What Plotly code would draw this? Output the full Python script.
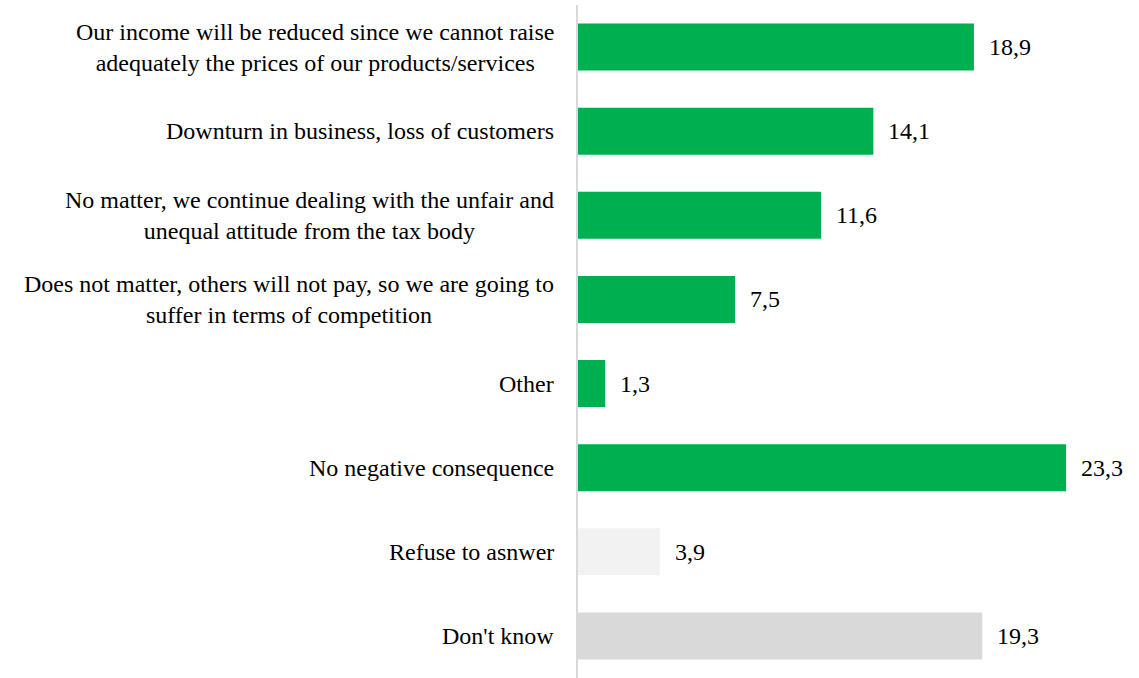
import plotly.graph_objects as go

categories = [
    "Our income will be reduced since we cannot raise<br>adequately the prices of our products/services",
    "Downturn in business, loss of customers",
    "No matter, we continue dealing with the unfair and<br>unequal attitude from the tax body",
    "Does not matter, others will not pay, so we are going to<br>suffer in terms of competition",
    "Other",
    "No negative consequence",
    "Refuse to asnwer",
    "Don't know",
]
values = [18.9, 14.1, 11.6, 7.5, 1.3, 23.3, 3.9, 19.3]
value_labels = ["18,9", "14,1", "11,6", "7,5", "1,3", "23,3", "3,9", "19,3"]
colors = ["#00B050"] * 6 + ["#F2F2F2", "#D9D9D9"]

FONT = "Liberation Serif"
FONT_SIZE = 24

fig = go.Figure(
    go.Bar(
        x=values,
        y=categories,
        orientation="h",
        marker=dict(color=colors, line=dict(width=0)),
        hoverinfo="skip",
    )
)

# value labels just past the bar ends
for cat, v, lab in zip(categories, values, value_labels):
    fig.add_annotation(
        x=v, y=cat, xref="x", yref="y", text=lab, showarrow=False,
        xanchor="left", xshift=13, font=dict(family=FONT, size=FONT_SIZE, color="#000000"),
    )

# category labels, centred lines, right-aligned block left of the axis
for cat in categories:
    fig.add_annotation(
        x=0, y=cat, xref="paper", yref="y", text=cat, showarrow=False,
        xanchor="right", align="center", xshift=-22,
        font=dict(family=FONT, size=FONT_SIZE, color="#000000"),
    )

fig.update_layout(
    width=1139, height=678,
    margin=dict(l=578, r=0, t=5, b=0),
    paper_bgcolor="white", plot_bgcolor="white",
    bargap=0.44,
    showlegend=False,
    xaxis=dict(range=[0, 26.78], visible=False, fixedrange=True),
    yaxis=dict(
        autorange="reversed", showticklabels=False, ticks="",
        showline=True, linecolor="#D9D9D9", linewidth=2, showgrid=False,
        zeroline=False, fixedrange=True,
    ),
)

fig.write_html("out.html", config={"displayModeBar": False})
